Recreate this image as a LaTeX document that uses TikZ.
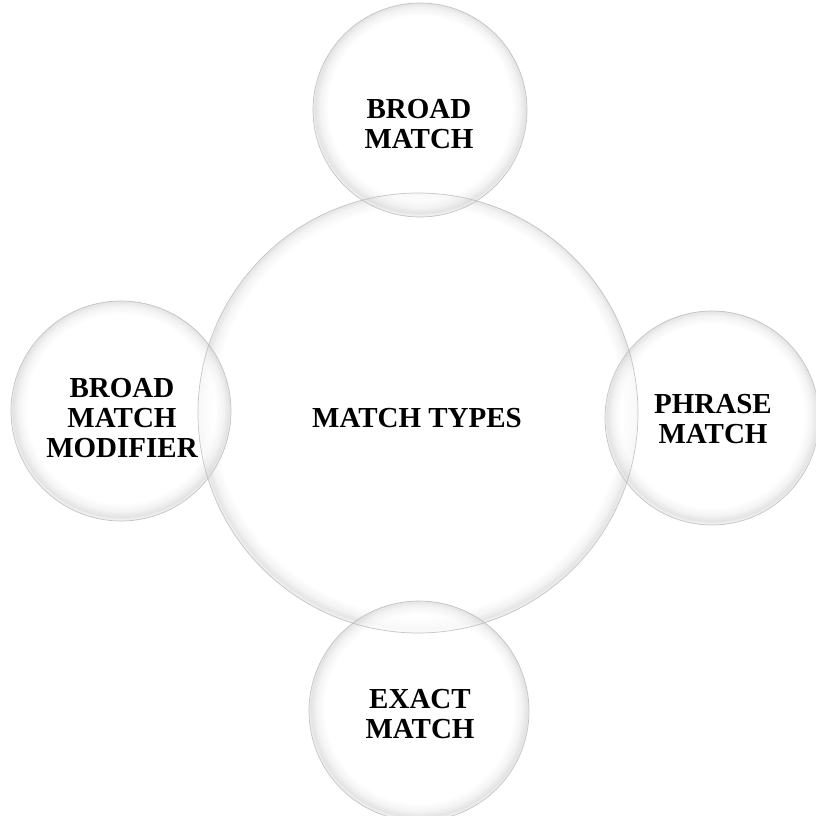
\documentclass[tikz,border=0pt]{standalone}
\usepackage{fontspec}
\setmainfont{Liberation Serif}
\pgfdeclareradialshading{bubblesmall}{\pgfpoint{0bp}{1bp}}{color(0bp)=(white); color(21.5bp)=(white); color(23.3bp)=(black!6); color(24.6bp)=(black!15); color(25bp)=(black!9); color(50bp)=(black!9)}
\pgfdeclareradialshading{bubblebig}{\pgfpoint{0bp}{0.5bp}}{color(0bp)=(white); color(23.2bp)=(white); color(24.2bp)=(black!6); color(24.8bp)=(black!14); color(25bp)=(black!9); color(50bp)=(black!9)}
\tikzset{
  bubble/.style={circle, inner sep=0pt, fill opacity=0.72},
  rim/.style={draw=black!28, line width=0.7pt, draw opacity=0.8},
  lbl/.style={font=\fontsize{29}{30}\selectfont\bfseries, align=center, inner sep=0pt, text=black}
}
\begin{document}
\begin{tikzpicture}[x=1pt,y=-1pt]
\useasboundingbox (0,0) rectangle (815,816);
\fill[white] (0,0) rectangle (815,816);
\node[bubble, shading=bubblebig, minimum size=440pt] (big) at (418,413) {};
\node[bubble, shading=bubblesmall, minimum size=214pt] (top) at (420,110) {};
\node[bubble, shading=bubblesmall, minimum size=220pt] (left) at (121,411) {};
\node[bubble, shading=bubblesmall, minimum size=214pt] (right) at (712,418) {};
\node[bubble, shading=bubblesmall, minimum size=220pt] (bottom) at (419,711) {};
\draw[rim] (big.center) circle (220pt);
\draw[rim] (top.center) circle (107pt);
\draw[rim] (left.center) circle (110pt);
\draw[rim] (right.center) circle (107pt);
\draw[rim] (bottom.center) circle (110pt);
\node[lbl] (tcenter) at (417,418) {MATCH TYPES};
\node[lbl] (ttop) at (419,124) {BROAD\\MATCH};
\node[lbl] (tleft) at (122,418) {BROAD\\MATCH\\MODIFIER};
\node[lbl] (tright) at (713,419) {PHRASE\\MATCH};
\node[lbl] (tbottom) at (420,714) {EXACT\\MATCH};
\end{tikzpicture}
\end{document}
